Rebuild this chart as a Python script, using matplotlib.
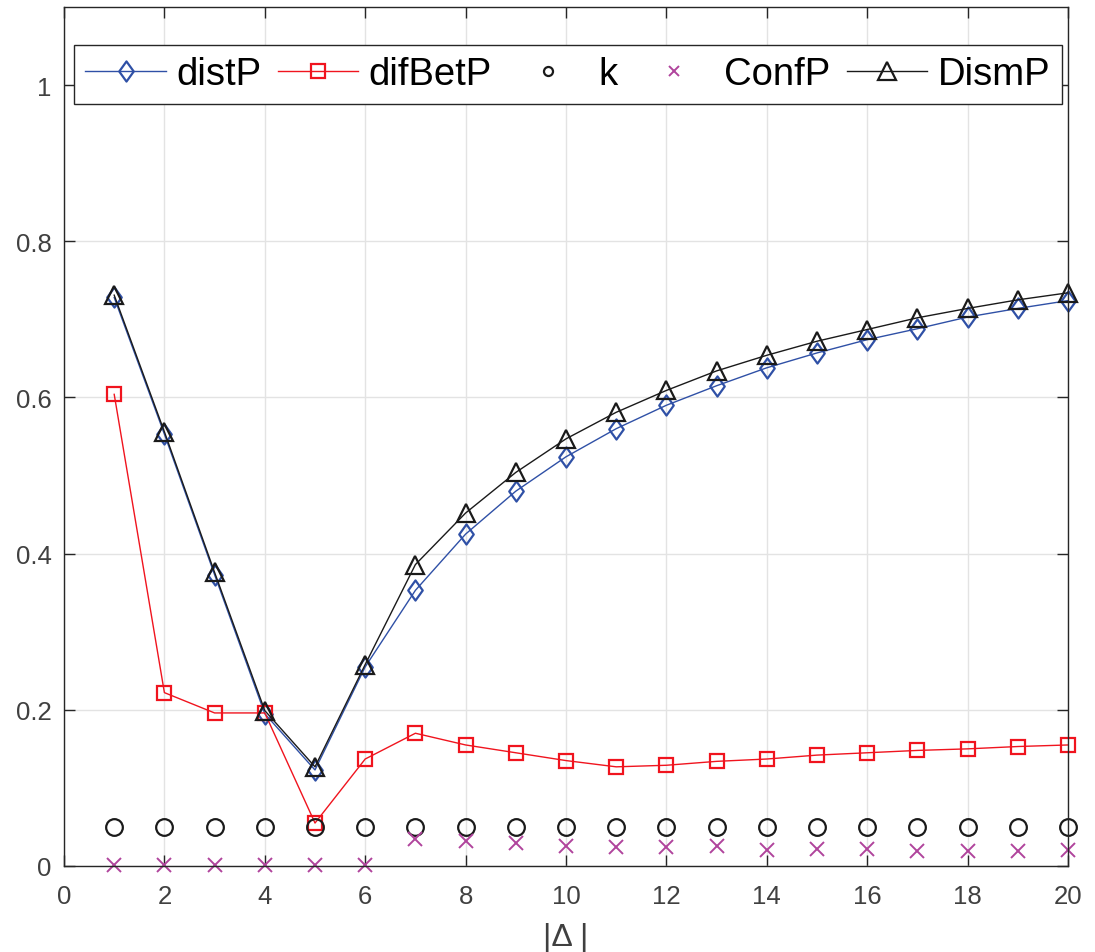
#!/usr/bin/env python

import numpy as np
import matplotlib
matplotlib.use("Agg")
import matplotlib.pyplot as plt
from matplotlib.path import Path

plt.rcParams['font.family'] = ['Liberation Sans', 'DejaVu Sans']

delta = list(range(1, 21))
distP = [0.728, 0.553, 0.373, 0.195, 0.123, 0.255, 0.353, 0.425, 0.480, 0.524,
         0.560, 0.590, 0.615, 0.638, 0.657, 0.674, 0.688, 0.703, 0.714, 0.724]
difBetP = [0.604, 0.222, 0.196, 0.196, 0.055, 0.137, 0.170, 0.155, 0.145, 0.135,
           0.127, 0.129, 0.134, 0.137, 0.142, 0.145, 0.148, 0.150, 0.153, 0.155]
k = [0.05] * 20
ConfP = [0.001, 0.001, 0.001, 0.001, 0.001, 0.001, 0.034, 0.032, 0.030, 0.026,
         0.024, 0.024, 0.025, 0.021, 0.022, 0.022, 0.019, 0.019, 0.019, 0.020]
DismP = [0.731, 0.556, 0.376, 0.199, 0.127, 0.258, 0.386, 0.452, 0.504, 0.547,
         0.581, 0.609, 0.634, 0.654, 0.672, 0.687, 0.702, 0.714, 0.725, 0.734]

x_ticks = np.arange(0, 21, 2)
y_ticks = [0, 0.2, 0.4, 0.6, 0.8, 1]
y_ticklabels = ['0', '0.2', '0.4', '0.6', '0.8', '1']

BLUE = '#2f50a6'
RED = '#f0141e'
MAGENTA = '#b0449c'
DARK = '#1a1a1a'
AXC = '#262626'

# MATLAB-style diamond is narrower than matplotlib's 'D'
diamond = Path([(0, 1), (0.72, 0), (0, -1), (-0.72, 0), (0, 1)],
               [Path.MOVETO, Path.LINETO, Path.LINETO, Path.LINETO, Path.CLOSEPOLY])


def plot_measures():
    fig = plt.figure(figsize=(10.95, 9.53), dpi=100)
    ax = fig.add_axes([64 / 1095, 1 - 867 / 953, 1004 / 1095, 859 / 953])

    ax.plot(delta, distP, '-', color=BLUE, lw=1.0, marker=diamond, ms=14.5,
            mfc='none', mec=BLUE, mew=1.6, label='distP', clip_on=False)
    ax.plot(delta, difBetP, '-', color=RED, lw=1.0, marker='s', ms=9.5,
            mfc='none', mec=RED, mew=1.6, label='difBetP', clip_on=False)
    ax.plot(delta, k, linestyle='none', marker='o', ms=12,
            mfc='none', mec=DARK, mew=1.6, label='k', clip_on=False)
    ax.plot(delta, ConfP, linestyle='none', marker='x', ms=10,
            mec=MAGENTA, mew=1.4, label='ConfP', clip_on=False)
    ax.plot(delta, DismP, '-', color=DARK, lw=1.0, marker='^', ms=13.5,
            mfc='none', mec=DARK, mew=1.6, label='DismP', clip_on=False)

    ax.set_xlim(0, 20)
    ax.set_ylim(0, 1.1)
    ax.set_xticks(x_ticks)
    ax.set_yticks(y_ticks)
    ax.set_yticklabels(y_ticklabels)
    ax.grid(True, color='#e3e3e3', lw=1.0)
    ax.set_axisbelow(True)

    for s in ax.spines.values():
        s.set_color(AXC)
        s.set_linewidth(1.0)
    ax.tick_params(direction='in', length=8, width=1.0, color=AXC,
                   labelsize=18.5, labelcolor='#404040',
                   top=True, right=True)
    ax.tick_params(axis='x', pad=13)
    ax.tick_params(axis='y', pad=9)

    ax.set_xlabel('|Δ |', fontsize=23, color='#404040', labelpad=10)

    leg = ax.legend(ncol=5, loc='upper left', bbox_to_anchor=(0.00996, 0.9558),
                    borderaxespad=0, fontsize=27.5, handlelength=2.1,
                    handletextpad=0.27, columnspacing=0.43, borderpad=0.3,
                    fancybox=False, framealpha=1, edgecolor=AXC)
    leg.get_frame().set_linewidth(1.0)
    for h in leg.legend_handles:
        if h.get_label() in ('k', 'ConfP'):
            h.set_markersize(6.5)

    return fig


if __name__ == '__main__':
    fig = plot_measures()
    fig.savefig('out.png', dpi=100)
